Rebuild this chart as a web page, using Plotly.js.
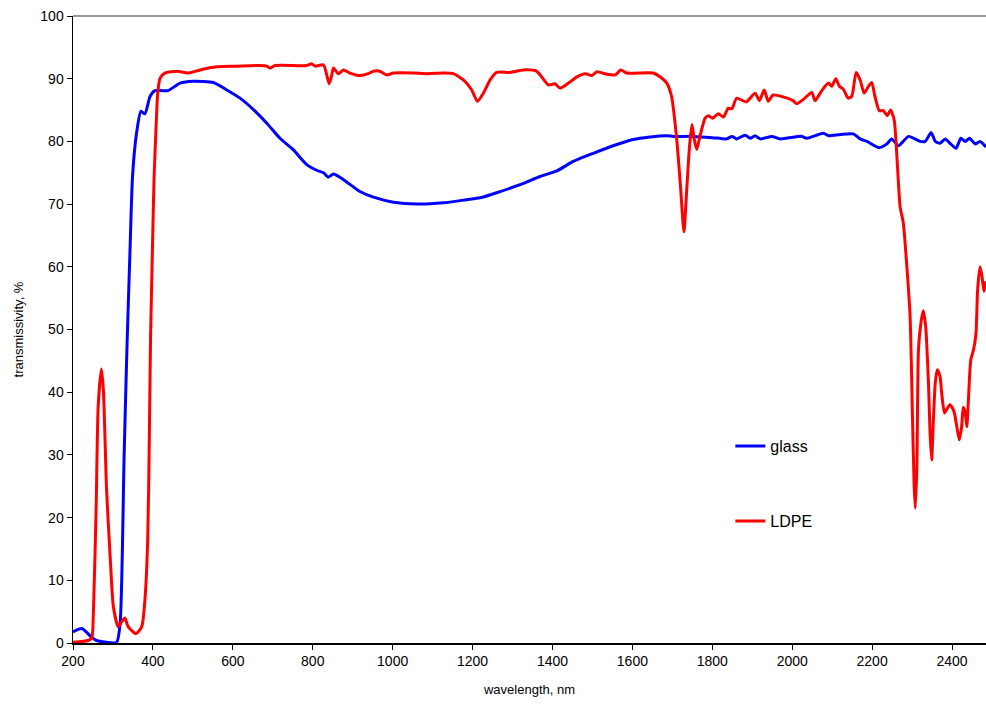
<!DOCTYPE html>
<html>
<head>
<meta charset="utf-8">
<script src="https://cdn.plot.ly/plotly-3.0.1.min.js"></script>
<style>html,body{margin:0;padding:0;background:#fff;}#chart{width:986px;height:706px;}</style>
</head>
<body>
<div id="chart"></div>
<script>
// glass (blue)
const glassWavelength = [200,222,247,259,280,309,318,328,335,343,349,359,370,380,393,405,418,438,468,501,551,585,618,651,685,718,751,785,810,827,839,852,877,918,952,1002,1060,1127,1185,1219,1269,1319,1369,1411,1452,1502,1552,1602,1644,1686,1703,1753,1800,1836,1849,1861,1882,1895,1907,1920,1949,1970,2024,2036,2078,2091,2120,2153,2170,2187,2218,2237,2249,2266,2291,2320,2333,2348,2358,2370,2383,2395,2410,2422,2433,2444,2458,2470,2485];
const glassT = [1.75,2.3,0.9,0.4,0.15,0.1,3.2,30.0,47.0,63.3,74.4,81.3,84.8,84.4,87.2,88.1,88.1,88.1,89.3,89.6,89.4,88.2,86.9,85.1,82.9,80.5,78.7,76.3,75.4,75.0,74.3,74.8,73.9,72.0,71.1,70.3,70.0,70.2,70.7,71.0,72.0,73.1,74.4,75.3,76.8,78.1,79.3,80.3,80.7,80.9,80.8,80.8,80.6,80.4,80.8,80.4,81.0,80.5,80.9,80.4,80.8,80.4,80.8,80.5,81.3,80.9,81.1,81.2,80.4,80.0,79.0,79.6,80.4,79.3,80.8,80.0,80.0,81.4,80.0,79.7,80.4,79.7,78.9,80.5,80.0,80.5,79.6,80.0,79.1];

// LDPE (red)
const ldpeWavelength = [200,238,247,251,258,263,271,276,284,293,301,313,322,330,338,358,372,380,387,391,394,399,403,408,412,418,430,460,489,518,560,610,668,685,693,706,785,797,806,827,835,841,847,852,864,877,893,918,939,952,968,985,1002,1052,1085,1127,1152,1177,1198,1212,1227,1244,1260,1294,1327,1360,1390,1406,1419,1440,1461,1482,1498,1511,1536,1557,1571,1586,1652,1669,1686,1698,1711,1721,1729,1736,1743,1749,1755,1761,1769,1782,1790,1801,1815,1828,1840,1849,1861,1885,1907,1918,1930,1940,1952,1977,2002,2011,2028,2049,2057,2074,2091,2099,2109,2118,2128,2140,2149,2160,2170,2180,2191,2199,2207,2218,2228,2238,2246,2255,2262,2270,2278,2285,2295,2301,2305,2308,2312,2316,2322,2328,2334,2341,2345,2349,2353,2358,2363,2370,2374,2381,2387,2395,2405,2412,2418,2424,2428,2433,2437,2441,2447,2454,2460,2464,2470,2475,2480,2485];
const ldpeT = [0.1,0.4,0.8,4.8,21.8,37.7,43.7,40.4,24.5,13.8,5.8,2.6,3.4,4.0,2.6,1.5,2.6,6.9,16.5,32.4,48.4,63.3,74.4,82.4,87.7,90.1,90.9,91.2,90.9,91.4,91.9,92.0,92.1,92.0,91.7,92.1,92.1,92.4,92.0,92.2,90.6,89.2,90.4,91.7,90.8,91.4,90.9,90.5,90.8,91.2,91.2,90.6,90.9,90.9,90.8,90.9,90.8,89.8,88.2,86.4,87.7,89.8,91.0,91.0,91.4,91.2,89.0,89.2,88.5,89.3,90.3,90.8,90.5,91.1,90.7,90.6,91.4,90.9,90.9,90.3,89.3,87.2,80.3,72.3,65.6,72.3,79.2,82.7,80.3,78.7,80.8,83.7,84.1,83.7,84.4,83.9,85.3,85.2,86.9,86.3,87.7,86.5,88.2,86.4,87.4,87.1,86.5,86.0,86.7,87.8,86.5,88.1,89.3,88.8,90.0,88.8,88.3,86.9,87.2,91.0,89.8,87.7,88.8,89.4,87.2,84.9,84.9,84.1,85.0,83.5,77.6,69.6,67.0,61.7,52.1,36.1,25.5,21.5,28.2,46.8,51.0,53.0,50.5,41.5,33.5,29.2,35.1,41.5,43.6,42.5,39.9,36.7,37.3,38.0,36.9,34.5,32.4,34.5,37.6,36.7,34.5,38.8,45.2,46.8,49.4,56.3,60.0,58.5,56.1,57.7];

const seriesNames = ['glass', 'LDPE'];
const xTickVals = [200,400,600,800,1000,1200,1400,1600,1800,2000,2200,2400];
const yTickVals = [0,10,20,30,40,50,60,70,80,90,100];

const font = 'Arial, "Liberation Sans", sans-serif';

const traces = [
  {x: glassWavelength, y: glassT, name: seriesNames[0], type: 'scatter', mode: 'lines',
   line: {color: '#0000FF', width: 3, shape: 'spline', smoothing: 0.6}, legendgroup: 'g1'},
  {x: ldpeWavelength, y: ldpeT, name: seriesNames[1], type: 'scatter', mode: 'lines',
   line: {color: '#FF0000', width: 3, shape: 'spline', smoothing: 0.6}, legendgroup: 'g2'}
];

const layout = {
  width: 986, height: 706,
  margin: {l: 73, r: 0, t: 16, b: 63, pad: 0},
  paper_bgcolor: '#ffffff', plot_bgcolor: '#ffffff',
  font: {family: font, size: 14, color: '#000'},
  showlegend: true,
  legend: {x: 0.72, y: 0.341, xanchor: 'left', yanchor: 'top', bgcolor: 'rgba(0,0,0,0)',
           font: {family: font, size: 16, color: '#000'}, tracegroupgap: 51, traceorder: 'grouped'},
  xaxis: {range: [200, 2485], tickvals: xTickVals, ticktext: xTickVals.map(String),
          showgrid: false, zeroline: false, showline: true, linecolor: '#000', linewidth: 1.5,
          ticks: 'outside', ticklen: 5, tickcolor: '#000', tickwidth: 1,
          tickfont: {family: font, size: 14, color: '#000'},
          title: {text: 'wavelength, nm', font: {family: font, size: 13, color: '#000'}, standoff: 16}},
  yaxis: {range: [0, 100], tickvals: yTickVals, ticktext: yTickVals.map(String),
          showgrid: false, zeroline: false, showline: true, linecolor: '#000', linewidth: 1.5,
          ticks: 'outside', ticklen: 5, tickcolor: '#000', tickwidth: 1,
          tickfont: {family: font, size: 14, color: '#000'},
          title: {text: 'transmissivity, %', font: {family: font, size: 13, color: '#000'}, standoff: 14}},
  shapes: [{type: 'line', xref: 'paper', yref: 'paper', x0: 0, x1: 1, y0: 1, y1: 1,
            line: {color: '#999999', width: 2}}]
};

Plotly.newPlot('chart', traces, layout, {staticPlot: true, displayModeBar: false});
</script>
</body>
</html>
